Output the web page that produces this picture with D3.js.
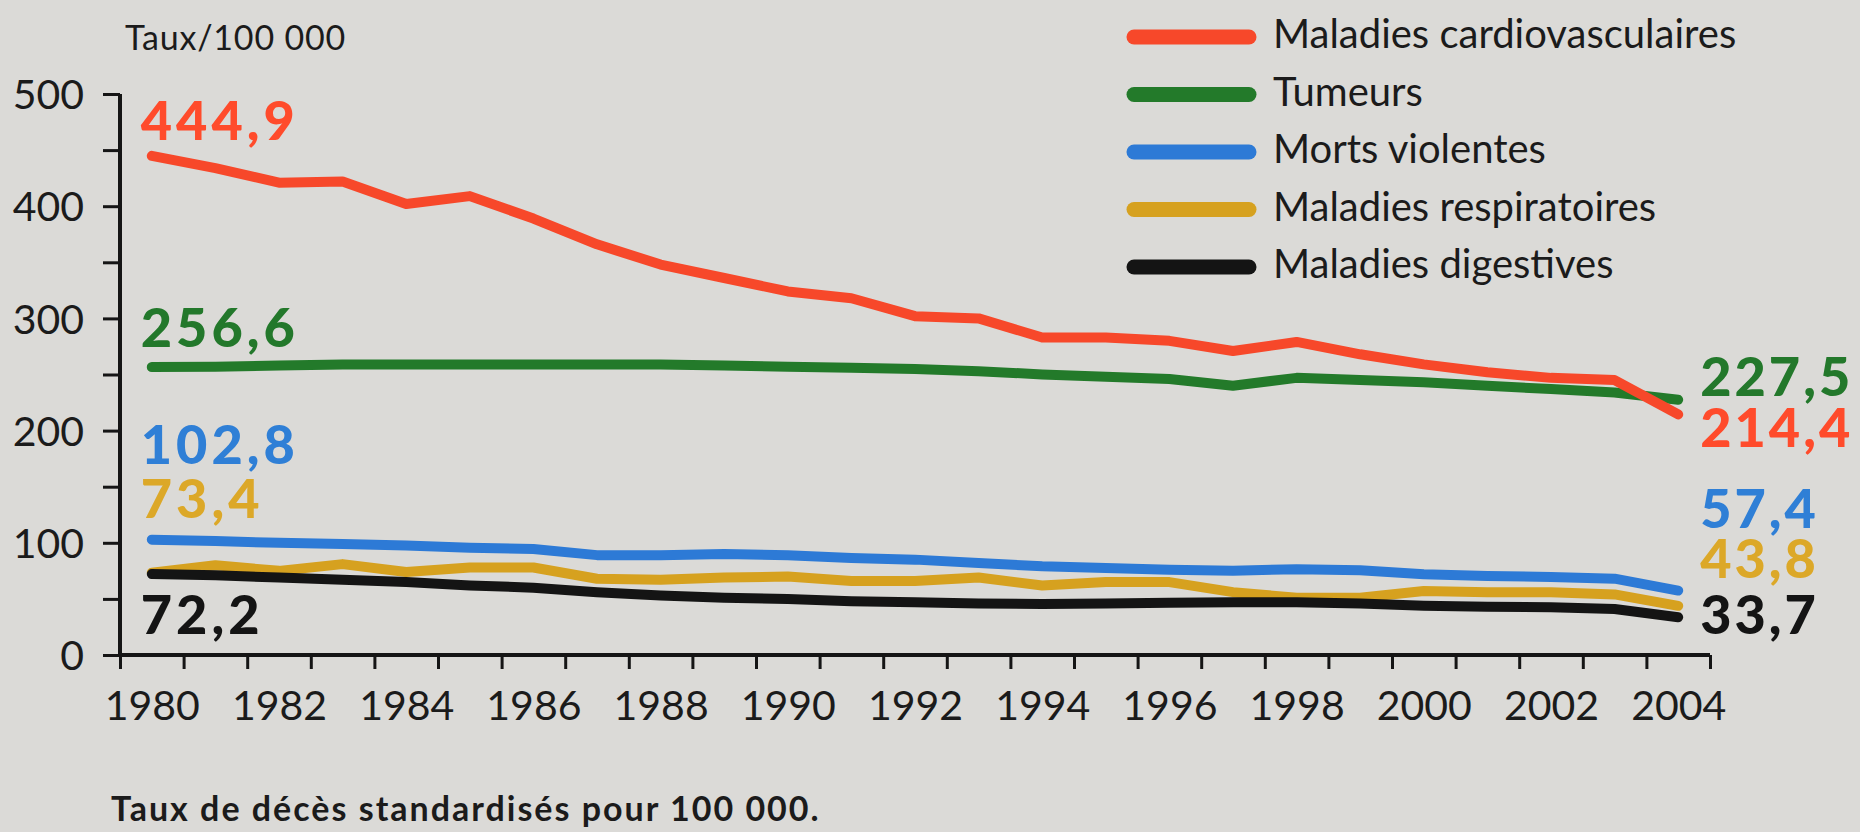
<!DOCTYPE html>
<html><head><meta charset="utf-8">
<script src="https://cdn.jsdelivr.net/npm/d3@7"></script>
<style>
html,body{margin:0;padding:0;background:#dbdad7;}
svg{display:block;}
text{font-family:Lato,"Open Sans",sans-serif;}
</style></head><body>
<svg id="chart" width="1860" height="832"></svg>
<script>
// ---------- DATA ----------
const years = [1980,1981,1982,1983,1984,1985,1986,1987,1988,1989,1990,1991,1992,1993,1994,1995,1996,1997,1998,1999,2000,2001,2002,2003,2004];
const seriesNames = ["Maladies cardiovasculaires","Tumeurs","Morts violentes","Maladies respiratoires","Maladies digestives"];
const cardio       = [444.9,434,421,422,402,409,389,366,348,336,324,318,302,300,283,283,280,271,279,268,259,252,247,245,214.4];
const tumeurs      = [256.6,257,258,259,259,259,259,259,259,258,257,256,255,253,250,248,246,240,247,245,243,240,237,234,227.5];
const violentes    = [102.8,101.5,100,99,97.5,95.5,94.5,89,89,90,89,86.5,85,82,79,77.5,76,75,76.5,75.5,72,70.5,69.5,68,57.4];
const respiratoires= [73.4,80,75,81,74,78,78,68,67,69,70,66,66,69,62,65,65,56,51,51,57,56,56,54,43.8];
const digestives   = [72.2,71,69,67,65,62,60,56,53,51,50,48,47,46,45.5,46,46.5,47,47,46,44,43,42.5,41,33.7];
const startLabels = ["444,9","256,6","102,8","73,4","72,2"];
const endLabels   = ["214,4","227,5","57,4","43,8","33,7"];
const yTickValues = [0,50,100,150,200,250,300,350,400,450,500];
const yTickLabels = ["0","","100","","200","","300","","400","","500"];
const xLabelYears = [1980,1982,1984,1986,1988,1990,1992,1994,1996,1998,2000,2002,2004];
const yAxisTitle = "Taux/100 000";
const footnote = "Taux de décès standardisés pour 100 000.";

// ---------- STYLE / LAYOUT ----------
const colors = ["#f7482a","#237a2a","#2d7ad6","#d6a11f","#141414"];
const labelColors = ["#ff4b2b","#23782b","#2f7fd6","#dca828","#141414"];
const drawOrder = [1,0,3,4,2];
const startDy = [-16,-20,-76,-55,60];
const endDy   = [33,-4,-63,-28,17];

const svg = d3.select("#chart");
const x = d3.scaleLinear().domain([1980, 2005]).range([120, 1710]);
const y = d3.scaleLinear().domain([0, 500]).range([655, 94]);

const data = [cardio, tumeurs, violentes, respiratoires, digestives];

// y axis
const yAxis = d3.axisLeft(y).tickValues(yTickValues).tickSize(17).tickSizeOuter(0).tickPadding(19)
  .tickFormat((d,i)=>yTickLabels[i]);
const gy = svg.append("g").attr("transform","translate(120,0)").call(yAxis);
gy.select(".domain").attr("stroke","#151515").attr("stroke-width",4).attr("d",`M0,${y(500)}V${y(0)+2}`);
gy.selectAll(".tick line").attr("stroke","#151515").attr("stroke-width",3);
gy.selectAll(".tick text").attr("fill","#1b1b1b").style("font-size","41px").attr("dy","0.36em");

// x axis ticks (year boundaries)
const xAxisTicks = d3.axisBottom(x).tickValues(d3.range(1980, 2006)).tickSize(14).tickSizeOuter(0).tickFormat("");
const gx = svg.append("g").attr("transform",`translate(0,${y(0)})`).call(xAxisTicks);
gx.select(".domain").attr("stroke","#151515").attr("stroke-width",4).attr("d",`M${x(1980)-2},0H${x(2005)}`);
gx.selectAll(".tick line").attr("stroke","#151515").attr("stroke-width",3);

// x labels, centred in each year interval
const xLab = d3.axisBottom(x).tickValues(xLabelYears.map(v=>v+0.5)).tickSize(0).tickPadding(36)
  .tickFormat(d=>String(Math.floor(d)));
const gxl = svg.append("g").attr("transform",`translate(0,${y(0)})`).call(xLab);
gxl.select(".domain").remove();
gxl.selectAll(".tick text").attr("fill","#1b1b1b").style("font-size","41px");

// axis title
svg.append("text").attr("x",125).attr("y",50).attr("fill","#1b1b1b").style("font-size","34px").style("letter-spacing","0.8px").text(yAxisTitle);

// lines
const line = d3.line().x((d,i)=>x(years[i]+0.5)).y(d=>y(d)).curve(d3.curveLinear);
drawOrder.forEach(k=>{
  svg.append("path").datum(data[k]).attr("d",line).attr("fill","none")
    .attr("stroke",colors[k]).attr("stroke-width",10).attr("stroke-linecap","round").attr("stroke-linejoin","round");
});

// start and end labels
data.forEach((s,k)=>{
  svg.append("text").attr("x",x(1980.5)-11).attr("y",y(s[0])+startDy[k])
    .attr("fill",labelColors[k]).style("font-size","54px").style("font-weight","900").style("letter-spacing","4px").text(startLabels[k]);
  svg.append("text").attr("x",x(2004.5)+22).attr("y",y(s[s.length-1])+endDy[k])
    .attr("fill",labelColors[k]).style("font-size","54px").style("font-weight","900").style("letter-spacing","3px").text(endLabels[k]);
});

// legend
const lg = svg.append("g");
seriesNames.forEach((n,k)=>{
  const yy = 37 + k*57.5;
  lg.append("line").attr("x1",1134).attr("x2",1249).attr("y1",yy).attr("y2",yy)
    .attr("stroke",colors[k]).attr("stroke-width",15).attr("stroke-linecap","round");
  lg.append("text").attr("x",1273).attr("y",yy+11).attr("fill","#1b1b1b").style("font-size","40px").text(n);
});

// footnote
svg.append("text").attr("x",111).attr("y",821).attr("fill","#1b1b1b").style("font-size","34px").style("font-weight","700").style("letter-spacing","2px").text(footnote);
</script>
</body></html>
